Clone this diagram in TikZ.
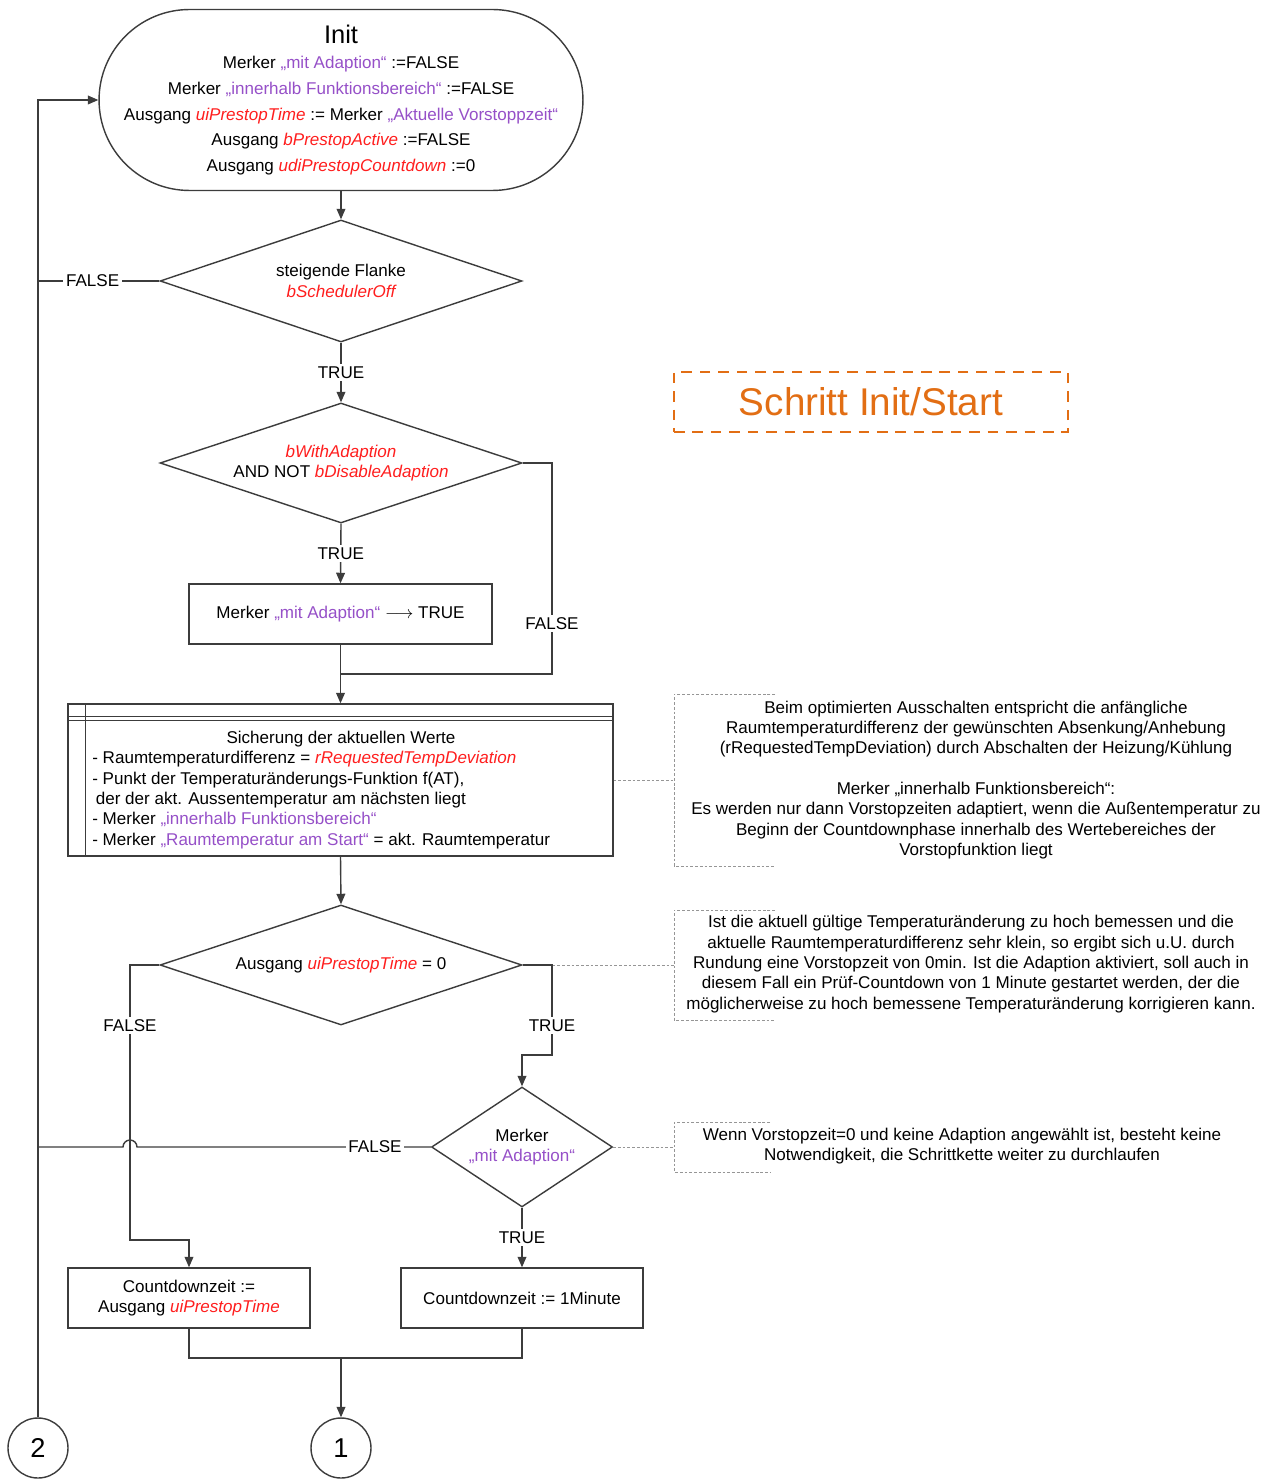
\documentclass[tikz,border=0pt]{standalone}
\usepackage{fontspec}
\setmainfont{Liberation Sans}
\usetikzlibrary{shapes.geometric, arrows.meta}
\newcommand{\signame}[1]{\textcolor{sigred}{\itshape #1}}
\newcommand{\merkname}[1]{\textcolor{merkpurple}{„#1“}}
\begin{document}
\begin{tikzpicture}[x=0.02cm, y=-0.02cm, >={Triangle[length=6pt,width=5pt]}, font=\fontsize{9.7}{11.6}\selectfont,
		line/.style={draw=linegray, line width=0.8pt},
		box/.style={line, rectangle, fill=white, align=center, inner sep=0pt},
		decision/.style={line, diamond, fill=white, align=center, inner sep=0pt, aspect=3},
		connector/.style={line, circle, minimum size=1.2cm, inner sep=0pt, font=\fontsize{15.5}{18}\selectfont},
		edgelabel/.style={fill=white, inner sep=1.5pt},
		note/.style={align=center},
		notebracket/.style={draw=notegray, line width=0.5pt, dash pattern=on 1.6pt off 1.1pt},
		stepbox/.style={draw=steporange, line width=1.3pt, dash pattern=on 6pt off 4.5pt, text=steporange, minimum width=7.88cm, minimum height=1.2cm, font=\fontsize{22}{24}\selectfont}]
	\definecolor{linegray}{RGB}{60,60,60}
	\definecolor{sigred}{RGB}{255,30,30}
	\definecolor{merkpurple}{RGB}{150,80,200}
	\definecolor{steporange}{RGB}{226,110,20}
	\definecolor{notegray}{RGB}{150,150,150}
	\useasboundingbox (0,0) rectangle (1274,1479);

	% flow
	\node[box, rounded corners=1.81cm, minimum width=9.68cm, minimum height=3.62cm, font=\fontsize{9.7}{14.6}\selectfont] (init) at (341,100) {{\fontsize{14.5}{16}\selectfont Init}\\
		Merker \merkname{mit Adaption} :=FALSE\\
		Merker \merkname{innerhalb Funktionsbereich} :=FALSE\\
		Ausgang \signame{uiPrestopTime} := Merker \merkname{Aktuelle Vorstoppzeit}\\
		Ausgang \signame{bPrestopActive} :=FALSE\\
		Ausgang \signame{udiPrestopCountdown} :=0};
	\node[decision, minimum width=7.24cm, minimum height=2.44cm] (flanke) at (341,281) {steigende Flanke\\ \signame{bSchedulerOff}};
	\node[decision, minimum width=7.24cm, minimum height=2.4cm] (adapt) at (341,463) {\signame{bWithAdaption}\\ AND NOT \signame{bDisableAdaption}};
	\node[box, minimum width=6.06cm, minimum height=1.2cm] (mitadapt) at (340.5,614) {Merker \merkname{mit Adaption} $\longrightarrow$ TRUE};
	\node[box, minimum width=10.9cm, minimum height=3.04cm] (sicher) at (340.5,780) {};
	\node[decision, minimum width=7.24cm, minimum height=2.4cm] (zeitnull) at (341,965) {Ausgang \signame{uiPrestopTime} = 0};
	\node[decision, aspect=1.5, minimum width=3.62cm, minimum height=2.4cm] (merker) at (522,1147) {Merker\\ \merkname{mit Adaption}};
	\node[box, minimum width=4.84cm, minimum height=1.2cm] (cdausgang) at (189,1298) {Countdownzeit :=\\ Ausgang \signame{uiPrestopTime}};
	\node[box, minimum width=4.84cm, minimum height=1.2cm] (cdminute) at (522,1298) {Countdownzeit := 1Minute};
	\node[connector] (con1) at (341,1448) {1};
	\node[connector] (con2) at (38,1448) {2};

	% sicherung box
	\draw[line] (sicher.north west) ++(0,13) -- ++(545,0);
	\draw[line] (sicher.north west) ++(0,17) -- ++(545,0);
	\draw[line] (sicher.north west) ++(18,0) -- ++(0,152);
	\node (sichertitle) at (341,739) {Sicherung der aktuellen Werte};
	\node[anchor=west, align=left, inner sep=0pt] (sichertext) at (92,800) {- Raumtemperaturdifferenz = \signame{rRequestedTempDeviation}\\
		- Punkt der Temperaturänderungs-Funktion f(AT),\\
		\hspace{2pt}der der akt. Aussentemperatur am nächsten liegt\\
		- Merker \merkname{innerhalb Funktionsbereich}\\
		- Merker \merkname{Raumtemperatur am Start} = akt. Raumtemperatur};

	% connectors
	\coordinate (loopflanke) at (38,281);
	\coordinate (loopmerker) at (38,1147);
	\coordinate (joinsicher) at (341,674);
	\coordinate (joinend) at (341,1358);
	\draw[line, ->] (init.south) -- (flanke.north);
	\draw[line] (flanke.west) -- node[edgelabel, pos=0.55] {FALSE} (loopflanke);
	\draw[line, ->] (flanke.south) -- node[edgelabel] {TRUE} (adapt.north);
	\draw[line, ->] (adapt.south) -- node[edgelabel] {TRUE} (mitadapt.north);
	\draw[line] (adapt.east) -- (552,463) -- node[edgelabel, pos=0.76] {FALSE} (552,674) -- (joinsicher);
	\draw[line, ->] (mitadapt.south) -- (sicher.north);
	\draw[line, ->] (sicher.south) -- (zeitnull.north);
	\draw[line, ->] (zeitnull.west) -- (130,965) -- node[edgelabel, pos=0.22] {FALSE} (130,1240) -- (189,1240) -- (cdausgang.north);
	\draw[line, ->] (zeitnull.east) -- (552,965) -- node[edgelabel, pos=0.67] {TRUE} (552,1055) -- (522,1055) -- (merker.north);
	\draw[line] (merker.west) -- node[edgelabel, pos=0.19] {FALSE} (137,1147) arc[start angle=0, end angle=180, radius=0.14cm] -- (loopmerker);
	\draw[line, ->] (merker.south) -- node[edgelabel] {TRUE} (cdminute.north);
	\draw[line] (cdausgang.south) -- (189,1358) -- (522,1358) -- (cdminute.south);
	\draw[line, ->] (joinend) -- (con1.north);
	\draw[line, ->] (con2.north) -- (38,100) -- (init.west);

	% notes
	\node[stepbox] (schritt) at (871,402) {Schritt Init/Start};
	\node[note] (notesicher) at (976,780) {Beim optimierten Ausschalten entspricht die anfängliche\\
		Raumtemperaturdifferenz der gewünschten Absenkung/Anhebung\\
		(rRequestedTempDeviation) durch Abschalten der Heizung/Kühlung\\[11.6pt]
		Merker „innerhalb Funktionsbereich“:\\
		Es werden nur dann Vorstopzeiten adaptiert, wenn die Außentemperatur zu\\
		Beginn der Countdownphase innerhalb des Wertebereiches der\\
		Vorstopfunktion liegt};
	\node[note] (notenull) at (971,964) {Ist die aktuell gültige Temperaturänderung zu hoch bemessen und die\\
		aktuelle Raumtemperaturdifferenz sehr klein, so ergibt sich u.U. durch\\
		Rundung eine Vorstopzeit von 0min. Ist die Adaption aktiviert, soll auch in\\
		diesem Fall ein Prüf-Countdown von 1 Minute gestartet werden, der die\\
		möglicherweise zu hoch bemessene Temperaturänderung korrigieren kann.};
	\node[note] (notemerker) at (962,1146) {Wenn Vorstopzeit=0 und keine Adaption angewählt ist, besteht keine\\
		Notwendigkeit, die Schrittkette weiter zu durchlaufen};
	\coordinate (bracketsicher) at (674,780);
	\coordinate (bracketnull) at (674,965);
	\coordinate (bracketmerker) at (674,1147);
	\draw[notebracket] (775,694) -- (674,694) -- (674,866) -- (775,866);
	\draw[notebracket] (775,910) -- (674,910) -- (674,1020) -- (775,1020);
	\draw[notebracket] (770,1122) -- (674,1122) -- (674,1172) -- (770,1172);
	\draw[notebracket] (sicher.east) -- (bracketsicher);
	\draw[notebracket] (zeitnull.east) ++(30,0) -- (bracketnull);
	\draw[notebracket] (merker.east) -- (bracketmerker);
\end{tikzpicture}
\end{document}
